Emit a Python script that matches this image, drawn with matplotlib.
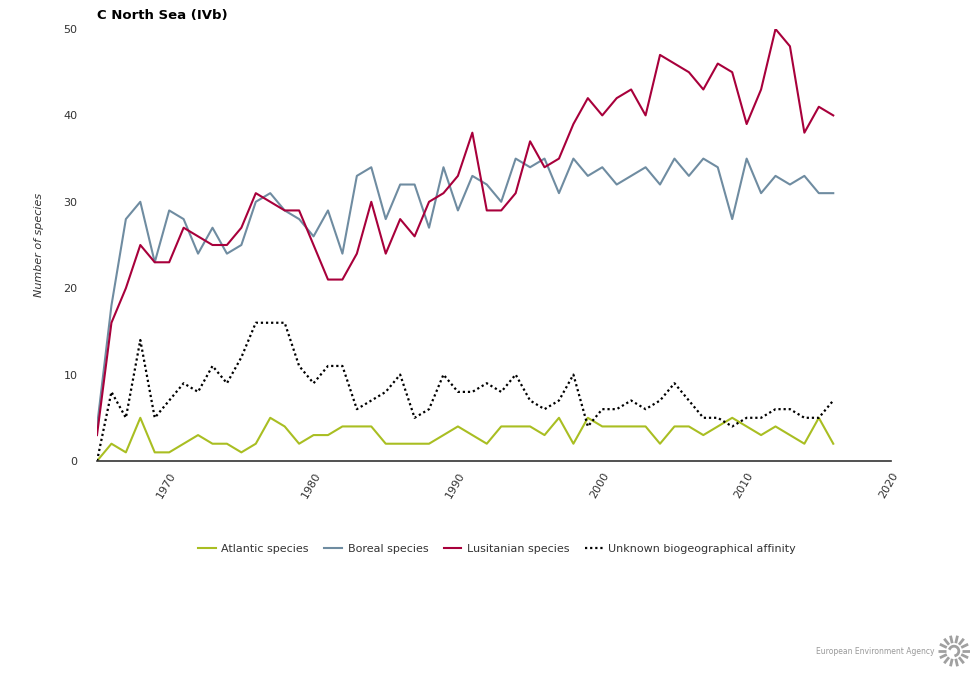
import numpy as np
import matplotlib
matplotlib.use('Agg')
import matplotlib.pyplot as plt

# values, 1965-2016
years = list(range(1965, 2017))
atlantic = [0, 2, 1, 5, 1, 1, 2, 3, 2, 2, 1, 2, 5, 4, 2, 3, 3, 4, 4, 4,
            2, 2, 2, 2, 3, 4, 3, 2, 4, 4, 4, 3, 5, 2, 5, 4, 4, 4, 4, 2,
            4, 4, 3, 4, 5, 4, 3, 4, 3, 2, 5, 2]
boreal = [4, 18, 28, 30, 23, 29, 28, 24, 27, 24, 25, 30, 31, 29, 28, 26, 29, 24, 33, 34,
          28, 32, 32, 27, 34, 29, 33, 32, 30, 35, 34, 35, 31, 35, 33, 34, 32, 33, 34, 32,
          35, 33, 35, 34, 28, 35, 31, 33, 32, 33, 31, 31]
lusitanian = [3, 16, 20, 25, 23, 23, 27, 26, 25, 25, 27, 31, 30, 29, 29, 25, 21, 21, 24, 30,
              24, 28, 26, 30, 31, 33, 38, 29, 29, 31, 37, 34, 35, 39, 42, 40, 42, 43, 40, 47,
              46, 45, 43, 46, 45, 39, 43, 50, 48, 38, 41, 40]
unknown = [0, 8, 5, 14, 5, 7, 9, 8, 11, 9, 12, 16, 16, 16, 11, 9, 11, 11, 6, 7,
           8, 10, 5, 6, 10, 8, 8, 9, 8, 10, 7, 6, 7, 10, 4, 6, 6, 7, 6, 7,
           9, 7, 5, 5, 4, 5, 5, 6, 6, 5, 5, 7]
x_ticks = [1970, 1980, 1990, 2000, 2010, 2020]
y_ticks = [0, 10, 20, 30, 40, 50]

fig = plt.figure(figsize=(9.75, 6.9), dpi=100)
ax = fig.add_axes([97 / 975, 1 - 461 / 690, (891 - 97) / 975, (461 - 29) / 690])

ax.plot(years, atlantic, color='#A9BE22', lw=1.5, label='Atlantic species')
ax.plot(years, boreal, color='#6F8CA1', lw=1.5, label='Boreal species')
ax.plot(years, lusitanian, color='#A8003B', lw=1.5, label='Lusitanian species')
ax.plot(years, unknown, color='black', lw=1.6, ls=(0, (1, 1.3)),
        label='Unknown biogeographical affinity')

ax.set_xlim(1965, 2020)
ax.set_ylim(0, 50)
ax.set_xticks(x_ticks)
ax.set_yticks(y_ticks)
ax.set_xticklabels([str(t) for t in x_ticks], rotation=60, ha='right', va='top',
                   rotation_mode='anchor', fontsize=8, color='#333333')
ax.set_yticklabels([str(t) for t in y_ticks], fontsize=8, color='#333333')
ax.tick_params(axis='both', length=0)
ax.tick_params(axis='x', pad=7)
ax.tick_params(axis='y', pad=14)
for s in ['top', 'right', 'left']:
    ax.spines[s].set_visible(False)
ax.spines['bottom'].set_color('#333333')
ax.spines['bottom'].set_linewidth(1.2)

ax.set_ylabel('Number of species', fontsize=8, style='italic', color='#333333', labelpad=14)
fig.text(97 / 975, 1 - 15 / 690, 'C North Sea (IVb)', fontsize=9.5, fontweight='bold',
         va='center', ha='left')

fig.legend(loc='center', bbox_to_anchor=(497 / 975, 1 - 549 / 690), ncol=4, frameon=False,
           fontsize=8, handlelength=1.6, handletextpad=0.5, columnspacing=1.4,
           labelcolor='#333333')

# agency logo in the bottom right corner
fig.text(934 / 975, 1 - 651 / 690, 'European Environment Agency', fontsize=5.5,
         color='#999999', ha='right', va='center')
lax = fig.add_axes([938 / 975, 1 - 667 / 690, 32 / 975, 32 / 690])
lax.set_xlim(-1, 1)
lax.set_ylim(-1, 1)
lax.set_aspect('equal')
lax.axis('off')
angles = np.linspace(0, 2 * np.pi, 14, endpoint=False)
for a in angles:
    lax.plot([0.5 * np.cos(a), 0.98 * np.cos(a)], [0.5 * np.sin(a), 0.98 * np.sin(a)],
             color='#a0a0a0', lw=2.0, solid_capstyle='butt')
t = np.linspace(-1.2, 2.6, 50)
lax.plot(0.3 * np.cos(t), 0.3 * np.sin(t), color='#a0a0a0', lw=2)

fig.savefig('out.png', dpi=100)
